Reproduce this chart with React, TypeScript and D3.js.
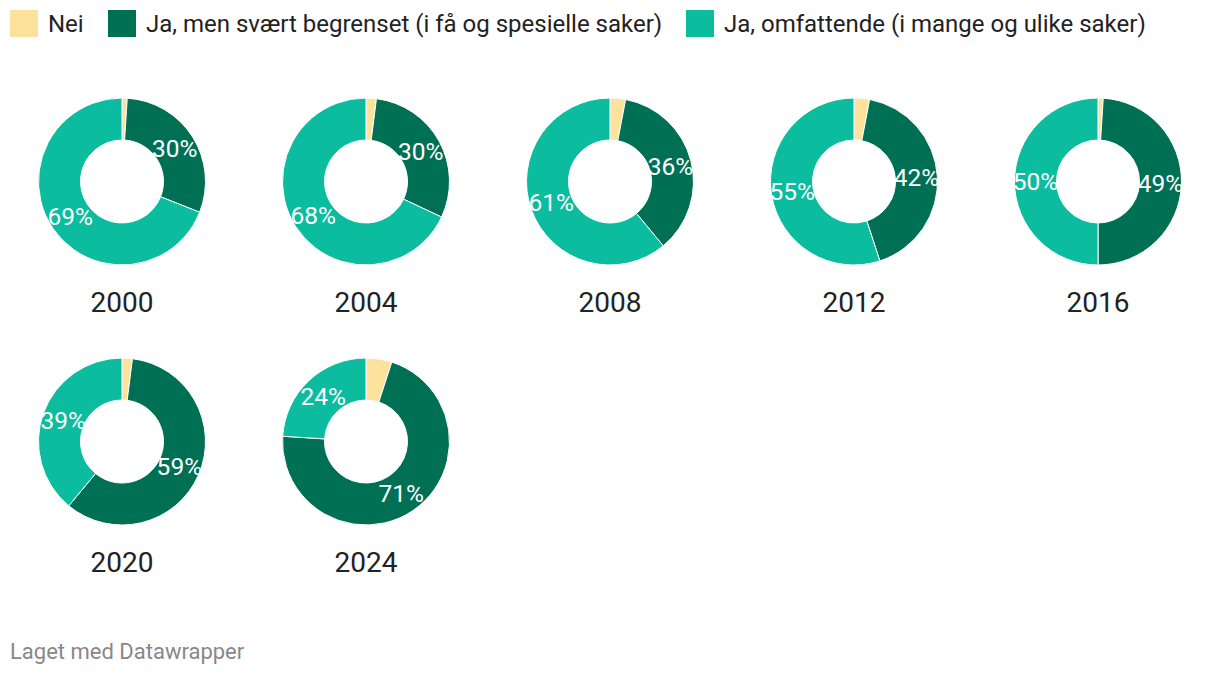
import React from 'react';
import * as d3 from 'd3';

const years = ['2000', '2004', '2008', '2012', '2016', '2020', '2024'];
const nei = [1, 2, 3, 3, 1, 2, 5];
const begrenset = [30, 30, 36, 42, 49, 59, 71];
const omfattende = [69, 68, 61, 55, 50, 39, 24];
const seriesNames = ['Nei', 'Ja, men svært begrenset (i få og spesielle saker)', 'Ja, omfattende (i mange og ulike saker)'];
const colors = ['#fde29b', '#007055', '#0bbc9f'];

const W = 1220;
const H = 674;
const font = 'Roboto, "Noto Sans", sans-serif';

export default function App() {
  const outerR = 83.5;
  const innerR = 41.5;
  const colX = d3.scalePoint<number>().domain([0, 1, 2, 3, 4]).range([122, 1098]);
  const rowY = d3.scalePoint<number>().domain([0, 1]).range([181.5, 441.5]);
  const pie = d3.pie<number>().sort(null).value((d) => d);
  const arc = d3.arc<d3.PieArcDatum<number>>().innerRadius(innerR).outerRadius(outerR);

  const legendX = [10, 108, 686];

  return (
    <svg width={W} height={H} style={{ position: 'absolute', left: 0, top: 0, background: '#fff' }} fontFamily={font}>
      {seriesNames.map((n, i) => (
        <g key={n}>
          <rect x={legendX[i]} y={10} width={28} height={27} fill={colors[i]} />
          <text x={legendX[i] + 38} y={32} fontSize={24} fill="#222">{n}</text>
        </g>
      ))}
      {years.map((y, i) => {
        const vals = [nei[i], begrenset[i], omfattende[i]];
        const arcs = pie(vals);
        const cx = colX(i % 5)!;
        const cy = rowY(Math.floor(i / 5))!;
        return (
          <g key={y} transform={`translate(${cx},${cy})`}>
            {arcs.map((a, j) => (
              <path key={j} d={arc(a)!} fill={colors[j]} stroke="#fff" strokeWidth={1} />
            ))}
            {arcs.map((a, j) => {
              if (j === 0) return null;
              const [lx, ly] = arc.centroid(a);
              return (
                <text key={'l' + j} x={lx} y={ly} dy="0.35em" textAnchor="middle" fontSize={24.5} fill="#fff">
                  {vals[j]}%
                </text>
              );
            })}
            <text x={0} y={130.5} textAnchor="middle" fontSize={28} fill="#222">{y}</text>
          </g>
        );
      })}
      <text x={10} y={659} fontSize={22} fill="#888">Laget med Datawrapper</text>
    </svg>
  );
}
